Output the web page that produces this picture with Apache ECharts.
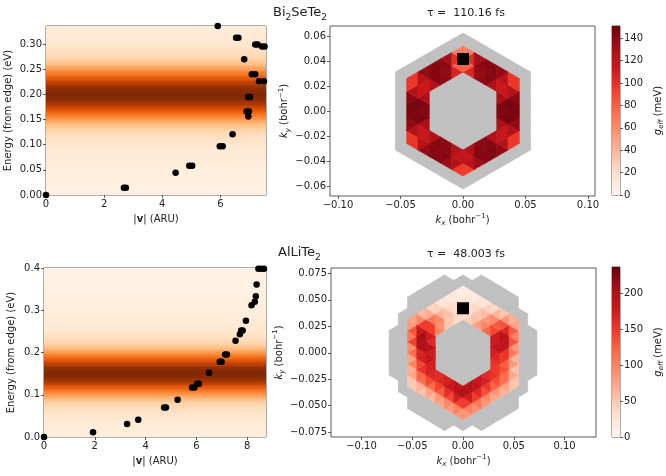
<!DOCTYPE html>
<html>
<head>
<meta charset="utf-8">
<script src="https://cdn.jsdelivr.net/npm/echarts@6/dist/echarts.min.js"></script>
<style>
  html, body { margin: 0; padding: 0; background: #fff; }
  #chart { width: 666px; height: 476px; }
</style>
</head>
<body>
<div id="chart"></div>
<script>
// ---------- data ----------
// speed |v| (ARU) vs energy (eV) of the k-points, Bi2SeTe2
const bstSpeed = [0, 2.68, 2.75, 4.46, 4.93, 5.03, 5.98, 6.08, 6.42, 6.96, 6.90, 6.98, 6.95, 7.02, 6.82,
  7.08, 7.20, 7.33, 7.50, 6.54, 6.62, 7.20, 7.28, 7.43, 7.52, 5.91]
const bstEnergy = [0, 0.0146, 0.0146, 0.044, 0.058, 0.058, 0.097, 0.097, 0.121, 0.156, 0.166, 0.166, 0.195, 0.195, 0.270,
  0.240, 0.240, 0.226, 0.226, 0.3125, 0.3125, 0.299, 0.299, 0.295, 0.295, 0.336]
// AlLiTe2
const altSpeed = [0, 1.93, 3.27, 3.71, 4.73, 4.80, 5.26, 5.83, 5.92, 6.03, 6.10, 6.50, 6.92, 6.99, 7.13, 7.20,
  7.54, 7.71, 7.76, 7.82, 7.95, 8.17, 8.30, 8.34, 8.37, 8.44, 8.55, 8.66]
const altEnergy = [0, 0.011, 0.031, 0.041, 0.070, 0.070, 0.088, 0.117, 0.117, 0.126, 0.126, 0.152, 0.178, 0.178, 0.195, 0.195,
  0.228, 0.243, 0.252, 0.252, 0.275, 0.312, 0.320, 0.333, 0.361, 0.398, 0.398, 0.398]

// smeared band behind the scatter: offset from the peak (eV) and relative weight
const bandPeak = [0.20, 0.15]
const bandOffset = [-0.25, -0.20, -0.15, -0.12, -0.10, -0.08, -0.07, -0.06, -0.05, -0.04, -0.03, -0.02, -0.01, 0,
  0.01, 0.02, 0.03, 0.04, 0.05, 0.06, 0.07, 0.08, 0.10, 0.12, 0.15, 0.20, 0.25]
const bandWeight = [0.03, 0.04, 0.06, 0.09, 0.12, 0.18, 0.24, 0.32, 0.45, 0.58, 0.72, 0.86, 0.96, 1.0,
  0.96, 0.86, 0.72, 0.58, 0.45, 0.32, 0.24, 0.18, 0.12, 0.09, 0.06, 0.04, 0.03]

// g_eff (meV) on hexagonal k-rings, clockwise from the top corner
const bstLattice = 0.0104
const bstRing3 = [50, 130, 140, 100, 140, 140, 100, 135, 140, 100, 135, 140, 100, 140, 140, 100, 140, 135]
const bstRing4 = [50, 135, 145, 140, 100, 145, 148, 145, 100, 145, 145, 140, 110, 140, 145, 140,
  100, 145, 148, 145, 100, 140, 145, 135]
const bstRing5 = [30, 120, 140, 140, 130, 60, 130, 145, 140, 130, 60, 130, 140, 140, 120,
  50, 125, 140, 140, 130, 60, 130, 140, 145, 130, 60, 130, 140, 140, 120]

const altLattice = 0.0105
const altRing3 = [30, 60, 110, 140, 170, 160, 150, 170, 190, 190, 180, 160, 160, 170, 150, 110, 40, 30]
const altRing4 = [30, 40, 70, 110, 170, 215, 180, 150, 150, 160, 180, 190, 200, 190, 170, 160,
  170, 180, 200, 225, 190, 140, 80, 40]
const altRing5 = [20, 30, 40, 70, 100, 130, 190, 160, 120, 100, 90, 100, 110, 120, 130,
  110, 120, 110, 100, 90, 80, 110, 130, 170, 200, 140, 110, 70, 40, 25]
const altRing6 = [5, 10, 10, 15, 20, 30, 40, 60, 50, 40, 30, 30, 30, 40, 50, 60, 70, 70,
  80, 70, 60, 50, 40, 30, 30, 40, 50, 50, 60, 60, 50, 40, 30, 20, 15, 10]

const bstMarker = [[0, 0.0416]]
const altMarker = [[0, 0.042]]

const colorMax = [151, 236]

// tick values
const bstVTicks = [0, 2, 4, 6]
const bstETicks = [0, 0.05, 0.10, 0.15, 0.20, 0.25, 0.30]
const altVTicks = [0, 2, 4, 6, 8]
const altETicks = [0, 0.1, 0.2, 0.3, 0.4]
const kxTicks = [-0.10, -0.05, 0, 0.05, 0.10]
const bstKyTicks = [-0.06, -0.04, -0.02, 0, 0.02, 0.04, 0.06]
const altKyTicks = [-0.075, -0.05, -0.025, 0, 0.025, 0.05, 0.075]
const bstBarTicks = [0, 20, 40, 60, 80, 100, 120, 140]
const altBarTicks = [0, 50, 100, 150, 200]

// ---------- helpers ----------
const REDS = ['#fff5f0', '#fee0d2', '#fcbba1', '#fc9272', '#fb6a4a', '#ef3b2c', '#cb181d', '#a50f15', '#67000d']
const ORANGES = ['#fff5eb', '#fee6ce', '#fdd0a2', '#fdae6b', '#fd8d3c', '#f16913', '#d94801', '#a63603', '#7f2704']
const FONT = 'DejaVu Sans'
const TXT = '#222'
const SQ3 = Math.sqrt(3)

const minus = (s) => s.replace('-', '\u2212')

function axialToXY(q, r, a) {
  return [q * a * SQ3 / 2, (r + q / 2) * a]
}

function ringValueMap(rings, firstRing) {
  const map = new Map()
  const dirs = [[1, -1], [0, -1], [-1, 0], [-1, 1], [0, 1], [1, 0]]
  rings.forEach((vals, idx) => {
    const n = firstRing + idx
    const corners = [[0, n], [n, 0], [n, -n], [0, -n], [-n, 0], [-n, n]]
    for (let k = 0; k < 6; k++) {
      for (let s = 0; s < n; s++) {
        const q = corners[k][0] + dirs[k][0] * s
        const r = corners[k][1] + dirs[k][1] * s
        map.set(q + ',' + r, vals[k * n + s])
      }
    }
  })
  return map
}

function buildTriangles(a, inDomain, valueMap, M) {
  const gray = []
  const colored = []
  for (let q = -M; q <= M; q++) {
    for (let r = -M; r <= M; r++) {
      const tris = [[[q, r], [q + 1, r], [q, r + 1]], [[q + 1, r], [q, r + 1], [q + 1, r + 1]]]
      tris.forEach((t) => {
        if (!t.every(([qq, rr]) => inDomain(qq, rr))) return
        const xy = [].concat(...t.map(([qq, rr]) => axialToXY(qq, rr, a)))
        const vals = t.map(([qq, rr]) => valueMap.get(qq + ',' + rr))
        if (vals.every((v) => v !== undefined)) colored.push(xy.concat([(vals[0] + vals[1] + vals[2]) / 3]))
        else gray.push(xy)
      })
    }
  }
  return { gray, colored }
}

const hexDist = (q, r) => (Math.abs(q) + Math.abs(r) + Math.abs(q + r)) / 2
const bstTris = buildTriangles(bstLattice, (q, r) => hexDist(q, r) <= 6,
  ringValueMap([bstRing3, bstRing4, bstRing5], 3), 8)
const altTris = buildTriangles(altLattice, (q, r) => {
  const p = axialToXY(q, r, 1)
  return Math.hypot(p[0], p[1]) <= 7.3
}, ringValueMap([altRing3, altRing4, altRing5, altRing6], 3), 10)

const bandSegments = bandOffset.slice(0, -1).map((_, i) => i)

function bandSeries(gridIdx, peak) {
  return {
    type: 'custom',
    xAxisIndex: gridIdx, yAxisIndex: gridIdx,
    clip: true,
    silent: true,
    data: bandSegments,
    renderItem(params, api) {
      const i = api.value(0)
      const cs = params.coordSys
      const yLo = api.coord([0, peak + bandOffset[i]])[1]
      const yHi = api.coord([0, peak + bandOffset[i + 1]])[1]
      const top = Math.max(cs.y, yHi)
      const bot = Math.min(cs.y + cs.height, yLo)
      if (bot <= top) return null
      const fill = new echarts.graphic.LinearGradient(0, yLo, 0, yHi, [
        { offset: 0, color: echarts.color.lerp(bandWeight[i], ORANGES) },
        { offset: 1, color: echarts.color.lerp(bandWeight[i + 1], ORANGES) },
      ], true)
      return {
        type: 'rect',
        shape: { x: cs.x, y: top, width: cs.width, height: bot - top + 0.5 },
        style: { fill },
      }
    },
  }
}

function scatterSeries(gridIdx, xs, ys) {
  return {
    type: 'scatter',
    xAxisIndex: gridIdx, yAxisIndex: gridIdx,
    symbolSize: 6.5,
    clip: true,
    itemStyle: { color: '#000', opacity: 1 },
    data: xs.map((x, i) => [x, ys[i]]),
  }
}

function triRender(fixedColor) {
  return (params, api) => {
    const pts = [
      api.coord([api.value(0), api.value(1)]),
      api.coord([api.value(2), api.value(3)]),
      api.coord([api.value(4), api.value(5)]),
    ]
    const c = fixedColor || api.visual('color')
    return { type: 'polygon', shape: { points: pts }, style: { fill: c, stroke: c, lineWidth: 0.7 } }
  }
}

function triSeries(gridIdx, data, fixedColor) {
  return {
    type: 'custom',
    xAxisIndex: gridIdx, yAxisIndex: gridIdx,
    silent: true,
    data,
    renderItem: triRender(fixedColor),
  }
}

function markerSeries(gridIdx, data) {
  return {
    type: 'scatter',
    xAxisIndex: gridIdx, yAxisIndex: gridIdx,
    symbol: 'rect', symbolSize: 12,
    itemStyle: { color: '#000', opacity: 1 },
    data,
  }
}

function colorbarSeries(gridIdx, max) {
  return {
    type: 'custom',
    xAxisIndex: gridIdx, yAxisIndex: gridIdx,
    silent: true,
    data: [[0, max]],
    renderItem(params, api) {
      const p0 = api.coord([0, 0])
      const p1 = api.coord([1, api.value(1)])
      return {
        type: 'rect',
        shape: { x: p0[0], y: p1[1], width: p1[0] - p0[0], height: p0[1] - p1[1] },
        style: {
          fill: new echarts.graphic.LinearGradient(0, 1, 0, 0,
            REDS.map((c, i) => ({ offset: i / (REDS.length - 1), color: c }))),
        },
      }
    },
  }
}

const labelStyle = { color: TXT, fontFamily: FONT, fontSize: 10 }
const nameStyle = {
  color: TXT, fontFamily: FONT, fontSize: 10, lineHeight: 14,
  rich: {
    b: { fontWeight: 'bold', fontFamily: FONT, fontSize: 10, color: TXT },
    i: { fontStyle: 'italic', fontFamily: FONT, fontSize: 10, color: TXT, lineHeight: 14 },
    sub: { fontStyle: 'italic', fontFamily: FONT, fontSize: 7, color: TXT, verticalAlign: 'bottom', lineHeight: 14 },
    sup: { fontFamily: FONT, fontSize: 7, color: TXT, verticalAlign: 'top', lineHeight: 12 },
  },
}

function valueAxis(opts) {
  return {
    type: 'value',
    gridIndex: opts.grid,
    min: opts.min, max: opts.max,
    position: opts.position,
    show: opts.show !== false,
    name: opts.name || '',
    nameLocation: 'middle',
    nameGap: opts.nameGap,
    nameRotate: opts.nameRotate,
    nameTextStyle: nameStyle,
    axisLine: { show: false, onZero: false },
    axisTick: { show: true, length: 3, customValues: opts.ticks, lineStyle: { color: '#333', width: 0.8 } },
    axisLabel: {
      ...labelStyle, margin: 4,
      customValues: opts.ticks,
      formatter: opts.fmt,
    },
    splitLine: { show: false },
  }
}

const gridBase = { show: true, borderColor: '#333', borderWidth: 0.8, backgroundColor: 'transparent', containLabel: false }
const fixed = (d) => (v) => minus(Number(v).toFixed(d))

const chart = echarts.init(document.getElementById('chart'))

chart.setOption({
  animation: false,
  backgroundColor: '#fff',
  grid: [
    { ...gridBase, left: 44, top: 26, width: 222, height: 169 },
    { ...gridBase, left: 330, top: 26, width: 265, height: 170 },
    { ...gridBase, left: 612, top: 26, width: 9, height: 169 },
    { ...gridBase, left: 44, top: 268, width: 222, height: 169 },
    { ...gridBase, left: 331, top: 268, width: 265, height: 169 },
    { ...gridBase, left: 612, top: 267, width: 9, height: 170 },
  ],
  xAxis: [
    valueAxis({ grid: 0, min: 0, max: 7.57, ticks: bstVTicks, fmt: (v) => String(v), name: '|{b|v}| (ARU)', nameGap: 17 }),
    valueAxis({ grid: 1, min: -0.1064, max: 0.1056, ticks: kxTicks, fmt: fixed(2), name: '{i|k}{sub|x} (bohr{sup|\u22121})', nameGap: 17 }),
    valueAxis({ grid: 2, min: 0, max: 1, show: false }),
    valueAxis({ grid: 3, min: 0, max: 8.74, ticks: altVTicks, fmt: (v) => String(v), name: '|{b|v}| (ARU)', nameGap: 17 }),
    valueAxis({ grid: 4, min: -0.130, max: 0.131, ticks: kxTicks, fmt: fixed(2), name: '{i|k}{sub|x} (bohr{sup|\u22121})', nameGap: 17 }),
    valueAxis({ grid: 5, min: 0, max: 1, show: false }),
  ],
  yAxis: [
    valueAxis({ grid: 0, min: 0, max: 0.336, ticks: bstETicks, fmt: fixed(2), name: 'Energy (from edge) (eV)', nameGap: 31 }),
    valueAxis({ grid: 1, min: -0.068, max: 0.068, ticks: bstKyTicks, fmt: fixed(2), name: '{i|k}{sub|y} (bohr{sup|\u22121})', nameGap: 38 }),
    valueAxis({ grid: 2, min: 0, max: colorMax[0], ticks: bstBarTicks, fmt: (v) => String(v), position: 'right',
      name: '{i|g}{sub|eff} (meV)', nameGap: 31, nameRotate: 90 }),
    valueAxis({ grid: 3, min: 0, max: 0.4, ticks: altETicks, fmt: fixed(1), name: 'Energy (from edge) (eV)', nameGap: 26 }),
    valueAxis({ grid: 4, min: -0.0795, max: 0.0800, ticks: altKyTicks, fmt: fixed(3), name: '{i|k}{sub|y} (bohr{sup|\u22121})', nameGap: 44 }),
    valueAxis({ grid: 5, min: 0, max: colorMax[1], ticks: altBarTicks, fmt: (v) => String(v), position: 'right',
      name: '{i|g}{sub|eff} (meV)', nameGap: 31, nameRotate: 90 }),
  ],
  visualMap: [
    { type: 'continuous', show: false, seriesIndex: 3, dimension: 6, min: 0, max: colorMax[0], inRange: { color: REDS } },
    { type: 'continuous', show: false, seriesIndex: 9, dimension: 6, min: 0, max: colorMax[1], inRange: { color: REDS } },
  ],
  graphic: [
    { type: 'text', left: 273, top: 4, style: { text: 'Bi{s|2}SeTe{s|2}', fontFamily: FONT, fontSize: 13, fill: TXT, lineHeight: 18,
      rich: { s: { fontFamily: FONT, fontSize: 9, fill: TXT, verticalAlign: 'bottom', lineHeight: 16 } } } },
    { type: 'text', left: 427, top: 8, style: { text: '\u03c4 =  110.16 fs', fontFamily: FONT, fontSize: 11, fill: TXT } },
    { type: 'text', left: 278, top: 244, style: { text: 'AlLiTe{s|2}', fontFamily: FONT, fontSize: 13, fill: TXT, lineHeight: 18,
      rich: { s: { fontFamily: FONT, fontSize: 9, fill: TXT, verticalAlign: 'bottom', lineHeight: 16 } } } },
    { type: 'text', left: 427, top: 249, style: { text: '\u03c4 =  48.003 fs', fontFamily: FONT, fontSize: 11, fill: TXT } },
  ],
  series: [
    bandSeries(0, bandPeak[0]),
    scatterSeries(0, bstSpeed, bstEnergy),
    triSeries(1, bstTris.gray, '#c0c0c0'),
    triSeries(1, bstTris.colored),
    markerSeries(1, bstMarker),
    colorbarSeries(2, colorMax[0]),
    bandSeries(3, bandPeak[1]),
    scatterSeries(3, altSpeed, altEnergy),
    triSeries(4, altTris.gray, '#c0c0c0'),
    triSeries(4, altTris.colored),
    markerSeries(4, altMarker),
    colorbarSeries(5, colorMax[1]),
  ],
})

window.addEventListener('resize', () => chart.resize())
</script>
</body>
</html>
